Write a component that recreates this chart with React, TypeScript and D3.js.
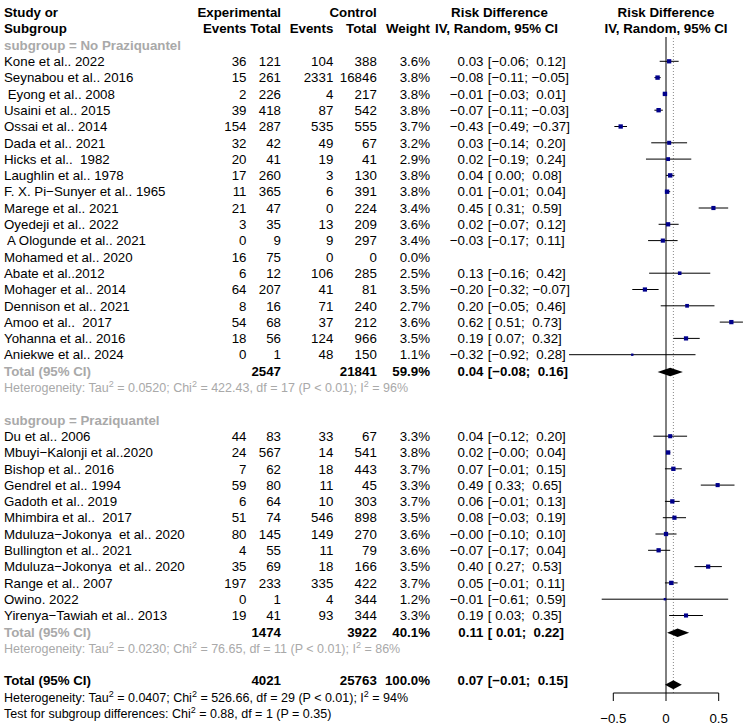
import React from "react";
import * as d3 from "d3";

// ---------- data ----------
const names1 = [
  "Kone et al.. 2022", "Seynabou et al.. 2016", " Eyong et al.. 2008", "Usaini et al.. 2015",
  "Ossai et al.. 2014", "Dada et al.. 2021", "Hicks et al..  1982", "Laughlin et al.. 1978",
  "F. X. Pi\u2212Sunyer et al.. 1965", "Marege et al.. 2021", "Oyedeji et al.. 2022",
  " A Ologunde et al.. 2021", "Mohamed et al.. 2020", "Abate et al..2012", "Mohager et al.. 2014",
  "Dennison et al.. 2021", "Amoo et al..  2017", "Yohanna et al.. 2016", "Aniekwe et al.. 2024",
];
const expEvents1 = [36, 15, 2, 39, 154, 32, 20, 17, 11, 21, 3, 0, 16, 6, 64, 8, 54, 18, 0];
const expTotal1 = [121, 261, 226, 418, 287, 42, 41, 260, 365, 47, 35, 9, 75, 12, 207, 16, 68, 56, 1];
const ctrlEvents1 = [104, 2331, 4, 87, 535, 49, 19, 3, 6, 0, 13, 9, 0, 106, 41, 71, 37, 124, 48];
const ctrlTotal1 = [388, 16846, 217, 542, 555, 67, 41, 130, 391, 224, 209, 297, 0, 285, 81, 240, 212, 966, 150];
const weight1 = [3.6, 3.8, 3.8, 3.8, 3.7, 3.2, 2.9, 3.8, 3.8, 3.4, 3.6, 3.4, 0.0, 2.5, 3.5, 2.7, 3.6, 3.5, 1.1];
const rd1 = [0.03, -0.08, -0.01, -0.07, -0.43, 0.03, 0.02, 0.04, 0.01, 0.45, 0.02, -0.03, null, 0.13, -0.2, 0.2, 0.62, 0.19, -0.32];
const lo1 = [-0.06, -0.11, -0.03, -0.11, -0.49, -0.14, -0.19, 0.0, -0.01, 0.31, -0.07, -0.17, null, -0.16, -0.32, -0.05, 0.51, 0.07, -0.92];
const hi1 = [0.12, -0.05, 0.01, -0.03, -0.37, 0.2, 0.24, 0.08, 0.04, 0.59, 0.12, 0.11, null, 0.42, -0.07, 0.46, 0.73, 0.32, 0.28];

const names2 = [
  "Du et al.. 2006", "Mbuyi\u2212Kalonji et al..2020", "Bishop et al.. 2016", "Gendrel et al.. 1994",
  "Gadoth et al.. 2019", "Mhimbira et al..  2017", "Mduluza\u2212Jokonya  et al.. 2020",
  "Bullington et al.. 2021", "Mduluza\u2212Jokonya  et al.. 2020", "Range et al.. 2007",
  "Owino. 2022", "Yirenya\u2212Tawiah et al.. 2013",
];
const expEvents2 = [44, 24, 7, 59, 6, 51, 80, 4, 35, 197, 0, 19];
const expTotal2 = [83, 567, 62, 80, 64, 74, 145, 55, 69, 233, 1, 41];
const ctrlEvents2 = [33, 14, 18, 11, 10, 546, 149, 11, 18, 335, 4, 93];
const ctrlTotal2 = [67, 541, 443, 45, 303, 898, 270, 79, 166, 422, 344, 344];
const weight2 = [3.3, 3.8, 3.7, 3.3, 3.7, 3.5, 3.6, 3.6, 3.5, 3.7, 1.2, 3.3];
const rd2 = [0.04, 0.02, 0.07, 0.49, 0.06, 0.08, -0.0, -0.07, 0.4, 0.05, -0.01, 0.19];
const lo2 = [-0.12, -0.0, -0.01, 0.33, -0.01, -0.03, -0.1, -0.17, 0.27, -0.01, -0.61, 0.03];
const hi2 = [0.2, 0.04, 0.15, 0.65, 0.13, 0.19, 0.1, 0.04, 0.53, 0.11, 0.59, 0.35];

const subgroupLabels = ["subgroup = No Praziquantel", "subgroup = Praziquantel"];
// summaries: [subgroup1, subgroup2, overall]
const sumExpTotal = [2547, 1474, 4021];
const sumCtrlTotal = [21841, 3922, 25763];
const sumWeight = ["59.9%", "40.1%", "100.0%"];
const sumRd = [0.04, 0.11, 0.07];
const sumLo = [-0.08, 0.01, -0.01];
const sumHi = [0.16, 0.22, 0.15];
const hetTau2 = ["0.0520", "0.0230", "0.0407"];
const hetChi2 = ["422.43", "76.65", "526.66"];
const hetDf = [17, 11, 29];
const hetP = ["< 0.01", "< 0.01", "< 0.01"];
const hetI2 = ["96%", "86%", "94%"];
const testChi2 = "0.88";
const testDf = 1;
const testP = "0.35";
const axisTicks = [-0.5, 0, 0.5];

// ---------- layout ----------
const W = 745;
const H = 728;
const FONT = "'Liberation Sans', Arial, Helvetica, sans-serif";
const FS = 13.3;
const FS_HET = 12.5;
const GRAY = "#A9A9A9";
const rowY = (i: number) => 45 + 16.3 * i;

const X_STUDY = 4;
const X_EE = 246.5;
const X_ET = 281;
const X_CE = 333.3;
const X_CT = 376.8;
const X_W = 430;
const X_EFF = 483.5;
const X_CI = 487.8;

const x = d3.scaleLinear().domain([-0.5, 0.5]).range([613.3, 718.7]);
const AXIS_Y = 693;

const isNeg = (v: number) => v < 0 || Object.is(v, -0);
const fmt = (v: number) => (isNeg(v) ? "\u2212" : "") + Math.abs(v).toFixed(2);
const pad = (v: number) => (isNeg(v) ? "" : " ") + fmt(v);
const ciStr = (lo: number, hi: number) => "[" + pad(lo) + "; " + pad(hi) + "]";

type Study = { name: string; ee: number; et: number; ce: number; ct: number; w: number; rd: number | null; lo: number | null; hi: number | null };

const group = (names: string[], ee: number[], et: number[], ce: number[], ct: number[], w: number[], rd: any[], lo: any[], hi: any[]): Study[] =>
  names.map((n, i) => ({ name: n, ee: ee[i], et: et[i], ce: ce[i], ct: ct[i], w: w[i], rd: rd[i], lo: lo[i], hi: hi[i] }));

const groups = [
  group(names1, expEvents1, expTotal1, ctrlEvents1, ctrlTotal1, weight1, rd1, lo1, hi1),
  group(names2, expEvents2, expTotal2, ctrlEvents2, ctrlTotal2, weight2, rd2, lo2, hi2),
];

const T = (props: any) => (
  <text fontFamily={FONT} fontSize={FS} style={{ whiteSpace: "pre" }} {...props} />
);

// segments: plain text alternating with superscript "2"
const supText = (segs: string[]) => {
  const out: React.ReactNode[] = [];
  segs.forEach((s, i) => {
    out.push(<tspan key={`a${i}`} dy={i === 0 ? 0 : 5}>{s}</tspan>);
    if (i < segs.length - 1) out.push(<tspan key={`b${i}`} dy={-5} fontSize={9}>2</tspan>);
  });
  return out;
};

const HetText = ({ k, y, color }: { k: number; y: number; color: string }) => (
  <text x={X_STUDY} y={y} fontFamily={FONT} fontSize={FS_HET} fill={color} style={{ whiteSpace: "pre" }}>
    {supText([
      "Heterogeneity: Tau",
      ` = ${hetTau2[k]}; Chi`,
      ` = ${hetChi2[k]}, df = ${hetDf[k]} (P ${hetP[k]}); I`,
      ` = ${hetI2[k]}`,
    ])}
  </text>
);

const BL = 4.7; // baseline offset from row centre

export default function App() {
  const els: React.ReactNode[] = [];
  let row = 0;
  const marks: React.ReactNode[] = [];

  groups.forEach((g, gi) => {
    const ly = rowY(row) + BL;
    els.push(
      <T key={`sg${gi}`} x={X_STUDY} y={ly} fontWeight="bold" fill={GRAY}>{subgroupLabels[gi]}</T>
    );
    row++;
    g.forEach((s, si) => {
      const cy = rowY(row);
      const y = cy + BL;
      els.push(
        <g key={`s${gi}-${si}`}>
          <T x={X_STUDY} y={y}>{s.name}</T>
          <T x={X_EE} y={y} textAnchor="end">{s.ee}</T>
          <T x={X_ET} y={y} textAnchor="end">{s.et}</T>
          <T x={X_CE} y={y} textAnchor="end">{s.ce}</T>
          <T x={X_CT} y={y} textAnchor="end">{s.ct}</T>
          <T x={X_W} y={y} textAnchor="end">{s.w.toFixed(1) + "%"}</T>
          {s.rd !== null && <T x={X_EFF} y={y} textAnchor="end">{fmt(s.rd)}</T>}
          {s.rd !== null && <T x={X_CI} y={y}>{ciStr(s.lo as number, s.hi as number)}</T>}
        </g>
      );
      if (s.rd !== null && s.w > 0) {
        const side = 4.4 * Math.sqrt(s.w / 3.8);
        marks.push(
          <g key={`m${gi}-${si}`}>
            <line x1={x(s.lo as number)} x2={x(s.hi as number)} y1={cy} y2={cy} stroke="#000" strokeWidth={1} />
            <rect x={x(s.rd) - side / 2} y={cy - side / 2} width={side} height={side} fill="#00008B" />
          </g>
        );
      }
      row++;
    });
    // subgroup total
    const cy = rowY(row);
    const y = cy + BL;
    els.push(
      <g key={`tot${gi}`}>
        <T x={X_STUDY} y={y} fill={GRAY} fontWeight="bold">Total (95% CI)</T>
        <T x={X_ET} y={y} textAnchor="end" fontWeight="bold">{sumExpTotal[gi]}</T>
        <T x={X_CT} y={y} textAnchor="end" fontWeight="bold">{sumCtrlTotal[gi]}</T>
        <T x={X_W} y={y} textAnchor="end" fontWeight="bold">{sumWeight[gi]}</T>
        <T x={X_EFF} y={y} textAnchor="end" fontWeight="bold">{fmt(sumRd[gi])}</T>
        <T x={X_CI} y={y} fontWeight="bold">{ciStr(sumLo[gi], sumHi[gi])}</T>
      </g>
    );
    marks.push(
      <path key={`d${gi}`} d={`M${x(sumLo[gi])},${cy + 1} L${x(sumRd[gi])},${cy - 3.3} L${x(sumHi[gi])},${cy + 1} L${x(sumRd[gi])},${cy + 5.3} Z`} fill="#000" />
    );
    row++;
    els.push(<HetText key={`het${gi}`} k={gi} y={rowY(row) + BL} color={GRAY} />);
    row += 2;
  });

  // overall
  {
    const cy = rowY(row);
    const y = cy + BL;
    els.push(
      <g key="overall">
        <T x={X_STUDY} y={y} fontWeight="bold">Total (95% CI)</T>
        <T x={X_ET} y={y} textAnchor="end" fontWeight="bold">{sumExpTotal[2]}</T>
        <T x={X_CT} y={y} textAnchor="end" fontWeight="bold">{sumCtrlTotal[2]}</T>
        <T x={X_W} y={y} textAnchor="end" fontWeight="bold">{sumWeight[2]}</T>
        <T x={X_EFF} y={y} textAnchor="end" fontWeight="bold">{fmt(sumRd[2])}</T>
        <T x={X_CI} y={y} fontWeight="bold">{ciStr(sumLo[2], sumHi[2])}</T>
      </g>
    );
    marks.push(
      <path key="dall" d={`M${x(sumLo[2])},${cy + 4} L${x(sumRd[2])},${cy - 0.5} L${x(sumHi[2])},${cy + 4} L${x(sumRd[2])},${cy + 8.5} Z`} fill="#000" />
    );
    row++;
    els.push(<HetText key="hetall" k={2} y={rowY(row) + BL} color="#000" />);
    row++;
    els.push(
      <text key="test" x={X_STUDY} y={rowY(row) + BL} fontFamily={FONT} fontSize={FS_HET} style={{ whiteSpace: "pre" }}>
        {supText(["Test for subgroup differences: Chi", ` = ${testChi2}, df = ${testDf} (P = ${testP})`])}
      </text>
    );
  }

  const h1 = rowY(-2) + BL;
  const h2 = rowY(-1) + BL;

  return (
    <svg width={W} height={H} style={{ position: "absolute", left: 0, top: 0, background: "#fff" }}>
      <rect width={W} height={H} fill="#fff" />
      {/* headers */}
      <g>
        <T x={X_STUDY} y={h1} fontWeight="bold">Study or</T>
        <T x={X_STUDY} y={h2} fontWeight="bold">Subgroup</T>
        <T x={X_ET} y={h1} textAnchor="end" fontWeight="bold">Experimental</T>
        <T x={X_CT} y={h1} textAnchor="end" fontWeight="bold">Control</T>
        <T x={X_EE} y={h2} textAnchor="end" fontWeight="bold">Events</T>
        <T x={X_ET} y={h2} textAnchor="end" fontWeight="bold">Total</T>
        <T x={X_CE} y={h2} textAnchor="end" fontWeight="bold">Events</T>
        <T x={X_CT} y={h2} textAnchor="end" fontWeight="bold">Total</T>
        <T x={X_W} y={h2} textAnchor="end" fontWeight="bold">Weight</T>
        <T x={499.5} y={h1} textAnchor="middle" fontWeight="bold">Risk Difference</T>
        <T x={496.5} y={h2} textAnchor="middle" fontWeight="bold">IV, Random, 95% CI</T>
        <T x={x(0)} y={h1} textAnchor="middle" fontWeight="bold">Risk Difference</T>
        <T x={x(0)} y={h2} textAnchor="middle" fontWeight="bold">IV, Random, 95% CI</T>
      </g>
      {els}
      {/* forest reference lines */}
      <line x1={x(0)} x2={x(0)} y1={37} y2={AXIS_Y} stroke="#000" strokeWidth={1} />
      <line x1={x(sumRd[2])} x2={x(sumRd[2])} y1={38} y2={AXIS_Y} stroke="#888" strokeWidth={1} strokeDasharray="1,2" />
      {marks}
      {/* axis */}
      <line x1={x(axisTicks[0])} x2={x(axisTicks[axisTicks.length - 1])} y1={AXIS_Y} y2={AXIS_Y} stroke="#000" strokeWidth={1} />
      {axisTicks.map((t) => (
        <g key={`t${t}`}>
          <line x1={x(t)} x2={x(t)} y1={AXIS_Y} y2={AXIS_Y + 8} stroke="#000" strokeWidth={1} />
          <T x={x(t)} y={722.5} textAnchor="middle">{t === 0 ? "0" : (t < 0 ? "\u2212" : "") + Math.abs(t).toString()}</T>
        </g>
      ))}
    </svg>
  );
}
